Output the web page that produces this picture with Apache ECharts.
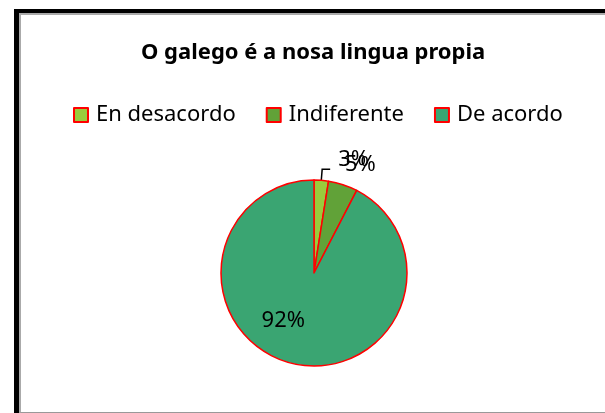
<!DOCTYPE html>
<html>
<head>
<meta charset="utf-8">
<script src="https://cdn.jsdelivr.net/npm/echarts@6/dist/echarts.min.js"></script>
<style>
  html, body { margin: 0; padding: 0; background: #fff; }
  #frame { position: absolute; left: 14px; top: 9px; width: 591px; height: 404px;
           box-sizing: border-box; border-top: 4px solid #000; border-left: 5px solid #000; }
  #inner { position: absolute; left: 0; top: 0; right: 0; bottom: 0;
           border-top: 2px solid #aaa; border-left: 2px solid #aaa; border-bottom: 1px solid #999; }
  #chart-1 { position: absolute; left: 0; top: 0; width: 605px; height: 413px; }
</style>
</head>
<body>
<div id="frame"><div id="inner"></div></div>
<div id="chart-1"></div>
<script>
var titleText = 'O galego é a nosa lingua propia';
var categories = ['En desacordo', 'Indiferente', 'De acordo'];
var values = [2.5, 5.1, 92.4];
var colors = ['#9acb3c', '#61a238', '#3aa572'];

var dom = document.getElementById("chart-1");
var myChart = echarts.init(dom);
var font = 'Noto Sans';

var data = categories.map(function (name, i) {
    var item = { name: name, value: values[i], itemStyle: { color: colors[i] } };
    if (i === 0) {
        // leader line up and to the right, text sits above the elbow
        item.labelLine = { show: true, length: 11, length2: 8 };
        item.label = { distanceToLabelLine: 8, lineHeight: 20 };
    } else if (i === 1) {
        item.labelLine = { show: false, length: 6, length2: 0 };
        item.label = { distanceToLabelLine: 0, lineHeight: 14 };
    } else {
        item.label = {
            position: 'inside',
            padding: [4, 38, 0, 0]
        };
    }
    return item;
});

option = {
    backgroundColor: 'transparent',
    animation: false,
    title: {
        text: titleText,
        left: 136,
        top: 37,
        textStyle: { fontFamily: font, fontSize: 22, fontWeight: 'bold', color: '#000' }
    },
    legend: {
        data: categories,
        top: 99,
        left: 68,
        icon: 'rect',
        itemWidth: 14,
        itemHeight: 14,
        itemGap: 30,
        textStyle: { fontFamily: font, fontSize: 22, color: '#000', padding: [0, 0, 0, 3] }
    },
    series: [{
        type: 'pie',
        center: [314, 273],
        radius: 93,
        startAngle: 90,
        clockwise: true,
        avoidLabelOverlap: false,
        percentPrecision: 0,
        labelLayout: { hideOverlap: false },
        itemStyle: { borderColor: '#ff0000', borderWidth: 1.5 },
        label: {
            show: true,
            formatter: function (p) {
                // empty lines lift the small-slice labels above their anchor
                var extra = p.dataIndex === 0 ? '\n ' : (p.dataIndex === 1 ? '\n\n ' : '');
                return p.percent + '%' + extra;
            },
            fontFamily: font,
            fontSize: 22,
            color: '#000'
        },
        labelLine: { lineStyle: { color: '#000', width: 1.5 } },
        emphasis: { disabled: true },
        data: data
    }]
};
myChart.setOption(option, true);
</script>
</body>
</html>
